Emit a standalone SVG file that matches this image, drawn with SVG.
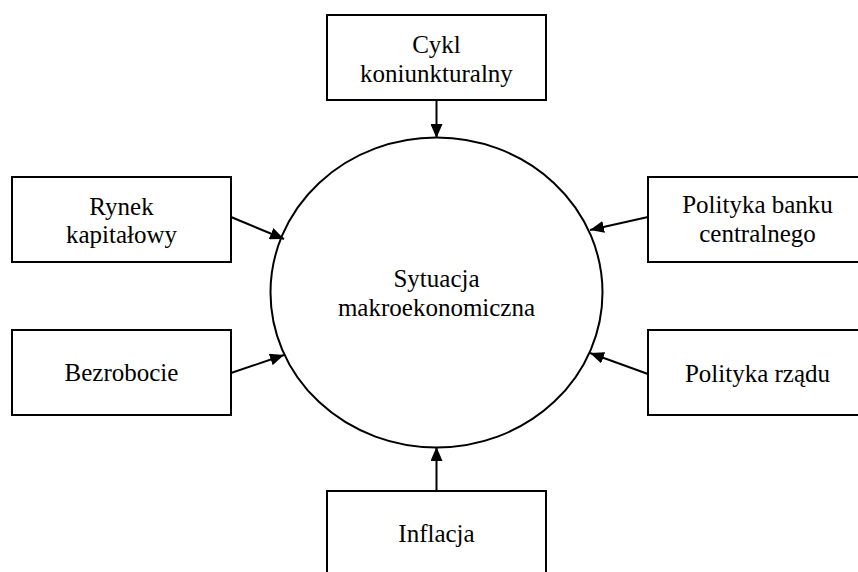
<svg xmlns="http://www.w3.org/2000/svg" width="858" height="572" viewBox="0 0 858 572">
<style>
.box{fill:#fff;stroke:#000;stroke-width:2}
.t{font-family:'Liberation Serif','Times New Roman','DejaVu Serif',serif;font-size:25px;fill:#000;text-anchor:middle}
.c{fill:none;stroke:#000;stroke-width:2;marker-end:url(#ah)}
</style>
<defs>
<marker id="ah" viewBox="0 0 14 12" refX="14" refY="6" markerWidth="14" markerHeight="12" markerUnits="userSpaceOnUse" orient="auto">
<path d="M0,0 L14,6 L0,12 z" fill="#000"/>
</marker>
</defs>
<rect width="858" height="572" fill="#fff"/>
<g id="center">
<ellipse cx="436.5" cy="292.5" rx="166" ry="155" fill="#fff" stroke="#000" stroke-width="2"/>
<text class="t" font-family="Liberation Serif, serif" x="436.5" y="287">Sytuacja</text>
<text class="t" font-family="Liberation Serif, serif" x="436.5" y="316">makroekonomiczna</text>
</g>
<g id="cykl">
<rect class="box" x="327" y="15" width="219" height="85"/>
<text class="t" x="436.5" y="53">Cykl</text>
<text class="t" x="436.5" y="82">koniunkturalny</text>
</g>
<g id="rynek">
<rect class="box" x="12" y="177" width="219" height="85"/>
<text class="t" x="121.5" y="215">Rynek</text>
<text class="t" x="121.5" y="243">kapitałowy</text>
</g>
<g id="bezrobocie">
<rect class="box" x="12" y="330" width="219" height="85"/>
<text class="t" x="121.5" y="381">Bezrobocie</text>
</g>
<g id="bank">
<rect class="box" x="648" y="177" width="219" height="85"/>
<text class="t" x="757.5" y="213">Polityka banku</text>
<text class="t" x="757.5" y="242">centralnego</text>
</g>
<g id="rzad">
<rect class="box" x="648" y="330" width="219" height="85"/>
<text class="t" x="757.5" y="382">Polityka rządu</text>
</g>
<g id="inflacja">
<rect class="box" x="327" y="491" width="219" height="90"/>
<text class="t" x="436.5" y="542">Inflacja</text>
</g>
<g id="connectors">
<line class="c" x1="436.5" y1="100" x2="436.5" y2="138"/>
<line class="c" x1="436.5" y1="491" x2="436.5" y2="447"/>
<line class="c" x1="231" y1="217" x2="284" y2="239"/>
<line class="c" x1="231" y1="373" x2="284" y2="355"/>
<line class="c" x1="648" y1="217" x2="590" y2="230"/>
<line class="c" x1="648" y1="374" x2="590" y2="353"/>
</g>
</svg>
